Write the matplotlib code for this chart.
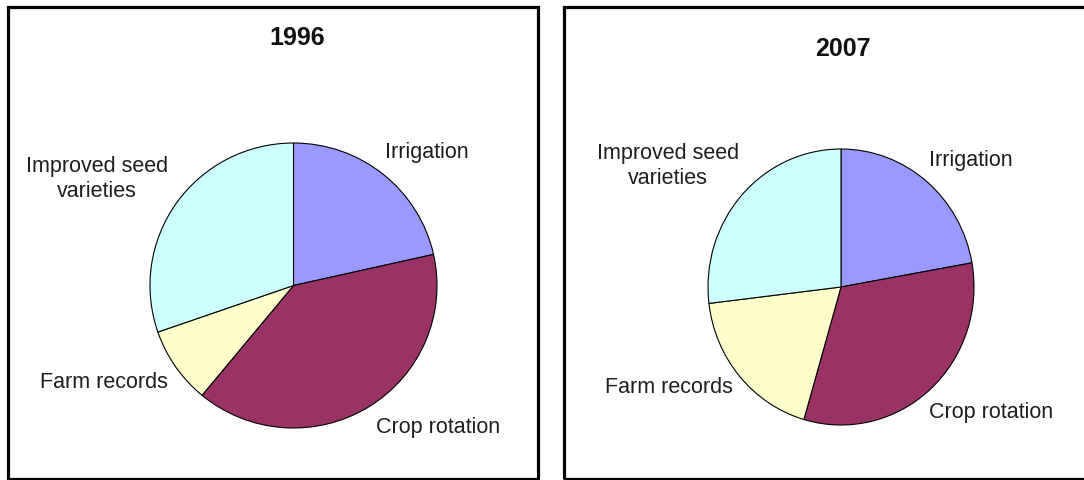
import matplotlib.pyplot as plt
from matplotlib.patches import Rectangle

# data
labels = ["Irrigation", "Crop rotation", "Farm records", "Improved seed\nvarieties"]
share_1996 = [21.5, 39.5, 8.7, 30.3]
share_2007 = [22.2, 32.3, 18.6, 26.9]
colors = ["#9999FF", "#993366", "#FFFFCC", "#CCFFFF"]

plt.rcParams['font.family'] = ['Liberation Sans', 'DejaVu Sans']

W, H = 1084, 480
fig = plt.figure(figsize=(W / 100, H / 100), dpi=100)
fig.patch.set_facecolor("white")

def px_box(x0, y0, x1, y1):
    # pixel box (top-left origin) -> figure fraction [l, b, w, h]
    return [x0 / W, 1 - y1 / H, (x1 - x0) / W, (y1 - y0) / H]

# label positions in pie units (center 0, radius 1)
pos_1996 = [(0.64, 0.93, "left"), (1.007, -1.0, "center"),
            (-1.321, -0.684, "center"), (-1.369, 0.747, "center")]
pos_2007 = [(0.665, 0.92, "left"), (1.128, -0.913, "center"),
            (-1.296, -0.725, "center"), (-1.30, 0.877, "center")]

panels = [
    ("1996", share_1996, (150, 143, 437, 428), pos_1996, (297, 38)),
    ("2007", share_2007, (708, 149, 974, 425), pos_2007, (843, 49)),
]

for title, vals, box, pos, tpos in panels:
    ax = fig.add_axes(px_box(*box))
    ax.pie(vals, colors=colors, startangle=90, counterclock=False,
           radius=1, wedgeprops=dict(edgecolor="black", linewidth=0.8))
    ax.set_xlim(-1, 1)
    ax.set_ylim(-1, 1)
    ax.set_aspect("auto")
    ax.axis("off")
    for lab, (x, y, ha) in zip(labels, pos):
        ax.text(x, y, lab, ha=ha, va="center", multialignment="center",
                fontsize=15.5, color="#1e1e1e", clip_on=False, linespacing=1.25)
    fig.text(tpos[0] / W, 1 - tpos[1] / H, title, ha="center", va="center",
             fontsize=18, fontweight="bold", color="#111111")

# panel frames
for x0, y0, x1, y1 in [(7.5, 6.5, 538, 478.5), (564, 6.5, 1095, 478.5)]:
    fig.patches.append(Rectangle((x0 / W, 1 - y1 / H), (x1 - x0) / W, (y1 - y0) / H,
                                 transform=fig.transFigure, fill=False,
                                 edgecolor="black", linewidth=2.3))

fig.savefig("out.png", dpi=100)
